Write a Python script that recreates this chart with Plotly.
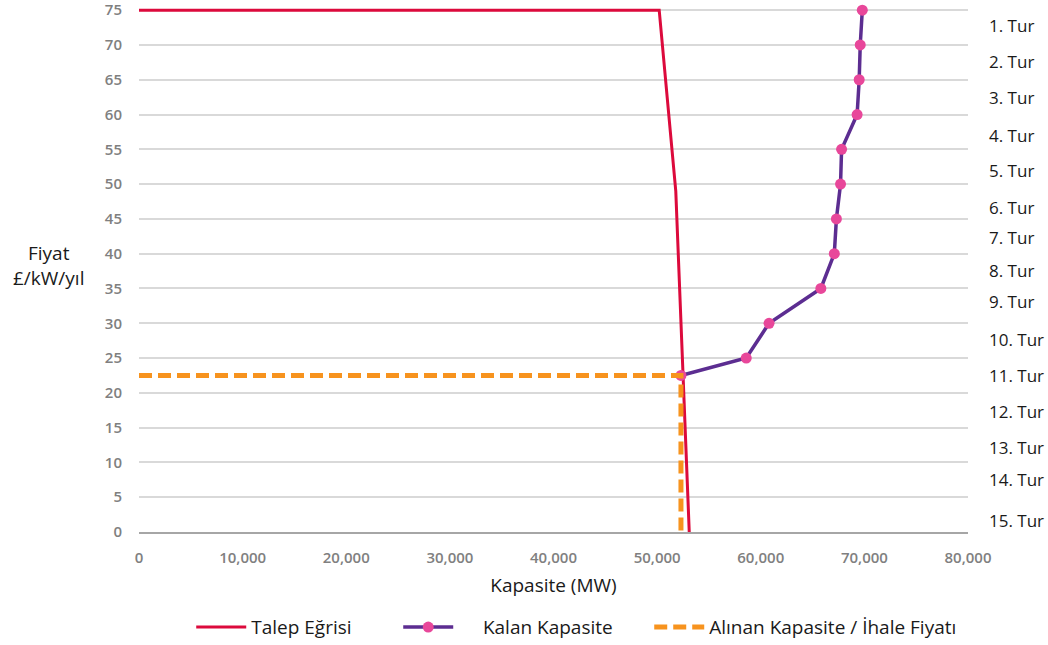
import plotly.graph_objects as go

# Demand curve (Talep Eğrisi)
demand_mw = [0, 50200, 51800, 53100]
demand_price = [75, 75, 49, 0]

# Remaining capacity after each round (Kalan Kapasite)
remaining_mw = [69800, 69600, 69500, 69300, 67800, 67700, 67300, 67100,
                65800, 60800, 58600, 52300]
remaining_price = [75, 70, 65, 60, 55, 50, 45, 40, 35, 30, 25, 22.5]

# Clearing capacity / clearing price (Alınan Kapasite / İhale Fiyatı)
clearing_mw = 52300
clearing_price = 22.5

round_labels = [f"{i}. Tur" for i in range(1, 16)]
round_label_y = [72.8, 67.6, 62.5, 57.0, 51.9, 46.7, 42.3, 37.6, 33.1,
                 27.6, 22.5, 17.3, 12.1, 7.5, 1.7]

x_ticks = list(range(0, 80001, 10000))
y_ticks = list(range(0, 76, 5))

FONT = "Open Sans"
RED = "#DC0A3C"
PURPLE = "#5C2D91"
PINK = "#E8479A"
ORANGE = "#F7931E"
TEXT = "#1a1a1a"
TICK = "#808080"
NBSP = "\u00a0"

fig = go.Figure()
fig.add_trace(go.Scatter(
    x=demand_mw, y=demand_price, mode="lines", name="Talep Eğrisi",
    line=dict(color=RED, width=3), legendwidth=142, cliponaxis=False,
))
fig.add_trace(go.Scatter(
    x=remaining_mw, y=remaining_price, mode="lines+markers",
    name=NBSP * 5 + "Kalan Kapasite",
    line=dict(color=PURPLE, width=3.5),
    marker=dict(color=PINK, size=11, line=dict(width=0)),
    legendwidth=186, cliponaxis=False,
))
fig.add_trace(go.Scatter(
    x=[0, clearing_mw, clearing_mw], y=[clearing_price, clearing_price, 0],
    mode="lines", name="Alınan Kapasite / İhale Fiyatı",
    line=dict(color=ORANGE, width=5, dash="13px,6px"),
))

annotations = [
    dict(text=lab, x=1.0, xref="paper", xshift=19, xanchor="left",
         y=yv, yref="y", yanchor="middle", showarrow=False,
         font=dict(family=FONT, size=17, color=TEXT))
    for lab, yv in zip(round_labels, round_label_y)
]
annotations.append(dict(
    text="Fiyat<br>£/kW/yıl", x=0, xref="paper", xshift=-91, xanchor="center",
    y=40, yref="y", yanchor="top", yshift=16, showarrow=False, align="center",
    font=dict(family=FONT, size=19, color=TEXT),
))

fig.update_layout(
    width=1048, height=645,
    margin=dict(l=139, r=80, t=6, b=113, autoexpand=False),
    paper_bgcolor="white", plot_bgcolor="white",
    font=dict(family=FONT),
    showlegend=True,
    legend=dict(
        orientation="h", x=0.063, xanchor="left", y=-0.181, yanchor="middle",
        font=dict(family=FONT, size=19, color=TEXT),
        itemwidth=50, bgcolor="rgba(0,0,0,0)",
    ),
    annotations=annotations,
    xaxis=dict(
        range=[0, 80000], tickvals=x_ticks, tickformat=",d",
        showgrid=False, zeroline=False,
        showline=True, linecolor="#A6A6A6", linewidth=1.5,
        ticks="", ticklabelstandoff=11,
        tickfont=dict(family=FONT, size=15, color=TICK, weight=600),
        title=dict(text="Kapasite (MW)", standoff=13,
                   font=dict(family=FONT, size=19, color=TEXT)),
    ),
    yaxis=dict(
        range=[0, 75.6], tickvals=y_ticks,
        showgrid=True, gridcolor="#D9D9D9", gridwidth=1.5,
        zeroline=False, showline=False,
        ticks="", ticklabelstandoff=16, ticklabeloverflow="allow",
        tickfont=dict(family=FONT, size=15, color=TICK, weight=600),
    ),
)

fig.write_html("out.html")
